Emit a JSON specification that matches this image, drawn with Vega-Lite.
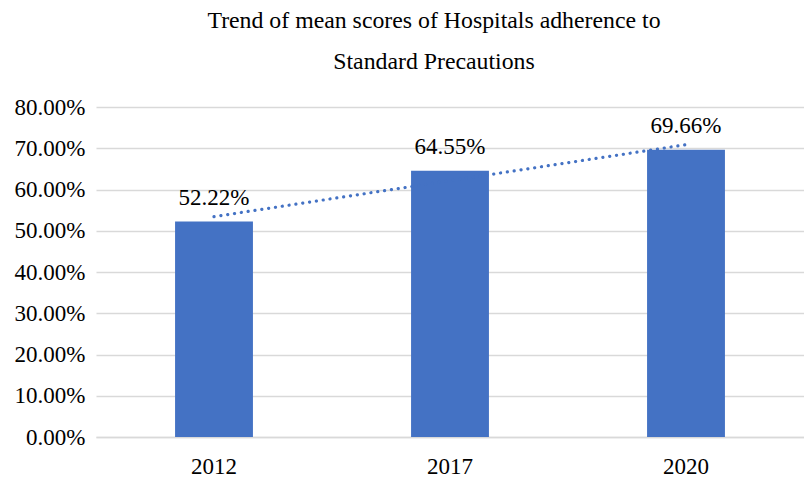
{
  "$schema": "https://vega.github.io/schema/vega-lite/v6.json",
  "width": 708,
  "height": 330,
  "autosize": {"type": "none"},
  "padding": {"left": 96, "top": 107, "right": 0, "bottom": 40},
  "background": "white",
  "config": {
    "font": "Liberation Serif",
    "view": {"stroke": null},
    "axis": {
      "labelFont": "Liberation Serif",
      "labelFontSize": 23,
      "labelColor": "#000000",
      "ticks": false,
      "title": null
    },
    "axisX": {
      "labelAngle": 0,
      "labelPadding": 18,
      "domainColor": "#d9d9d9",
      "domainWidth": 1.5,
      "grid": false
    },
    "axisY": {
      "labelPadding": 11,
      "domain": false,
      "gridColor": "#d9d9d9",
      "gridWidth": 1.5
    }
  },
  "title": {
    "text": ["Trend of mean scores of Hospitals adherence to", "Standard Precautions"],
    "font": "Liberation Serif",
    "fontSize": 23.8,
    "fontWeight": "normal",
    "color": "#000000",
    "lineHeight": 41,
    "anchor": "middle",
    "dx": -16,
    "offset": 22
  },
  "data": {
    "values": [
      {"year": "2012", "score": 0.5222, "trend": 0.5342},
      {"year": "2017", "score": 0.6455, "trend": 0.6214},
      {"year": "2020", "score": 0.6966, "trend": 0.7086}
    ]
  },
  "encoding": {
    "x": {
      "field": "year",
      "type": "ordinal",
      "title": null,
      "scale": {"paddingInner": 0.67, "paddingOuter": 0.335}
    }
  },
  "layer": [
    {
      "mark": {"type": "bar", "color": "#4472c4"},
      "encoding": {
        "y": {
          "field": "score",
          "type": "quantitative",
          "title": null,
          "scale": {"domain": [0, 0.8]},
          "axis": {
            "format": ".2%",
            "values": [0, 0.1, 0.2, 0.3, 0.4, 0.5, 0.6, 0.7, 0.8]
          }
        }
      }
    },
    {
      "mark": {"type": "text", "font": "Liberation Serif", "fontSize": 23, "color": "#000000", "baseline": "alphabetic", "dy": -17},
      "encoding": {
        "y": {"field": "score", "type": "quantitative"},
        "text": {"field": "score", "type": "quantitative", "format": ".2%"}
      }
    },
    {
      "mark": {"type": "line", "color": "#4472c4", "strokeWidth": 3.2, "strokeDash": [0.1, 6.8], "strokeCap": "round"},
      "encoding": {
        "y": {"field": "trend", "type": "quantitative"}
      }
    }
  ]
}
